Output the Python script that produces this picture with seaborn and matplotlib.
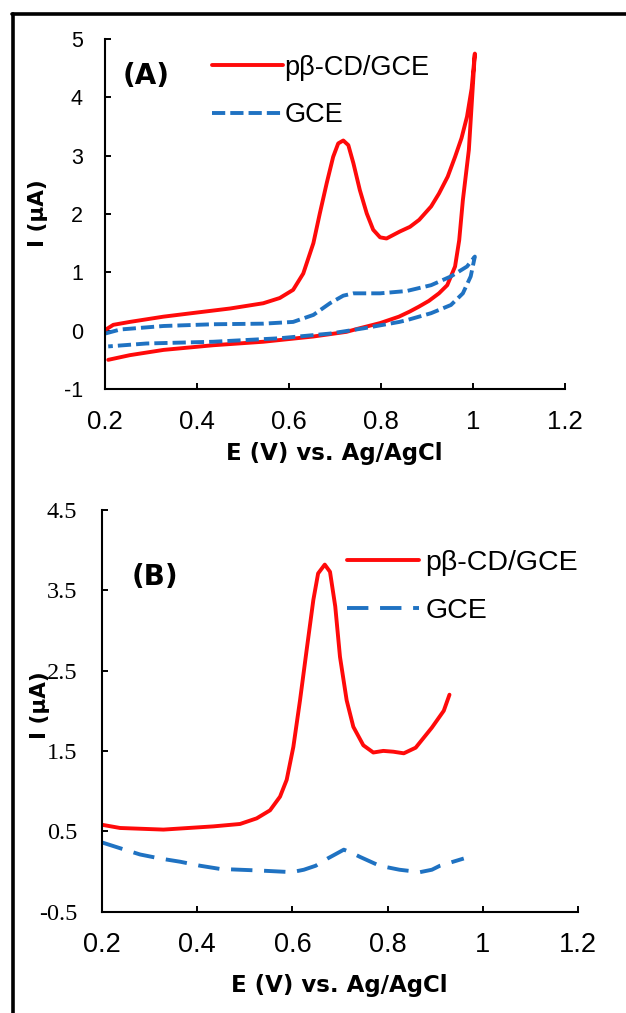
import numpy as np
import pandas as pd
import matplotlib
matplotlib.use("Agg")
import matplotlib.pyplot as plt
import seaborn as sns
from matplotlib.lines import Line2D

sns.set_theme(style="white")
plt.rcParams['font.family'] = ['Liberation Sans', 'DejaVu Sans']
plt.rcParams.update({"text.color": "black", "axes.labelcolor": "black",
                     "xtick.color": "black", "ytick.color": "black"})

# ---------------- Panel A: cyclic voltammograms ----------------
cv_pcd_E = [0.200, 0.218, 0.254, 0.327, 0.399, 0.472, 0.544, 0.580, 0.609, 0.631, 0.653, 0.667,
            0.682, 0.696, 0.707, 0.718, 0.729, 0.740, 0.754, 0.769, 0.783, 0.798, 0.812, 0.841,
            0.863, 0.883, 0.909, 0.926, 0.945, 0.961, 0.975, 0.987, 0.997, 1.004,
            1.000, 0.991, 0.978, 0.970, 0.961, 0.944, 0.926, 0.904, 0.882, 0.863, 0.839,
            0.798, 0.753, 0.725, 0.653, 0.544, 0.435, 0.327, 0.254, 0.207]
cv_pcd_I = [0.01, 0.10, 0.15, 0.24, 0.31, 0.38, 0.47, 0.56, 0.70, 0.98, 1.50, 2.01,
            2.53, 2.98, 3.21, 3.26, 3.18, 2.87, 2.41, 2.01, 1.73, 1.60, 1.58, 1.70,
            1.78, 1.90, 2.13, 2.35, 2.64, 2.98, 3.30, 3.67, 4.15, 4.75,
            4.24, 3.10, 2.24, 1.55, 1.10, 0.78, 0.64, 0.51, 0.41, 0.33, 0.24,
            0.13, 0.04, -0.02, -0.10, -0.19, -0.25, -0.33, -0.42, -0.50]

cv_gce_E = [0.200, 0.233, 0.327, 0.435, 0.544, 0.609, 0.653, 0.689, 0.718, 0.740, 0.798, 0.856,
            0.909, 0.952, 0.987, 1.004,
            0.995, 0.978, 0.952, 0.909, 0.856, 0.840, 0.762, 0.689, 0.580, 0.435, 0.290, 0.207]
cv_gce_I = [-0.05, 0.02, 0.08, 0.11, 0.12, 0.15, 0.27, 0.47, 0.60, 0.64, 0.64, 0.68,
            0.78, 0.93, 1.10, 1.27,
            0.93, 0.64, 0.44, 0.30, 0.18, 0.15, 0.04, -0.05, -0.13, -0.19, -0.22, -0.27]

# ---------------- Panel B: differential pulse voltammograms ----------------
dpv_pcd_E = [0.200, 0.238, 0.329, 0.434, 0.490, 0.525, 0.553, 0.574, 0.588, 0.602, 0.616, 0.630,
             0.644, 0.654, 0.668, 0.679, 0.690, 0.700, 0.714, 0.728, 0.749, 0.770, 0.791, 0.812,
             0.834, 0.859, 0.893, 0.918, 0.930]
dpv_pcd_I = [0.58, 0.54, 0.52, 0.56, 0.59, 0.66, 0.76, 0.93, 1.14, 1.55, 2.13, 2.76,
             3.38, 3.71, 3.82, 3.73, 3.30, 2.67, 2.13, 1.80, 1.57, 1.48, 1.50, 1.49,
             1.47, 1.54, 1.79, 2.00, 2.20]

dpv_gce_E = [0.200, 0.237, 0.280, 0.322, 0.364, 0.406, 0.448, 0.532, 0.599, 0.624, 0.649, 0.674,
             0.708, 0.725, 0.742, 0.783, 0.825, 0.868, 0.893, 0.910, 0.960]
dpv_gce_I = [0.36, 0.29, 0.21, 0.16, 0.12, 0.07, 0.03, 0.01, -0.01, 0.02, 0.07, 0.16,
             0.27, 0.23, 0.18, 0.07, 0.02, -0.01, 0.02, 0.07, 0.16]

x_ticks = [0.2, 0.4, 0.6, 0.8, 1.0, 1.2]
x_ticklabels = ["0.2", "0.4", "0.6", "0.8", "1", "1.2"]
yA_ticks = [-1, 0, 1, 2, 3, 4, 5]
yB_ticks = [-0.5, 0.5, 1.5, 2.5, 3.5, 4.5]
series_names = ["pβ-CD/GCE", "GCE"]

RED = "#ff0a0a"
BLUE = "#1f72c2"
BOLD_FAM = ["DejaVu Sans"]

fig = plt.figure(figsize=(6.26, 10.13), dpi=100)
axA = fig.add_axes([105 / 626, 1 - 389 / 1013, 460 / 626, 350 / 1013])
axB = fig.add_axes([102 / 626, 1 - 911.5 / 1013, 476 / 626, 401.5 / 1013])

# Panel A
sns.lineplot(x=cv_pcd_E, y=cv_pcd_I, sort=False, estimator=None, ax=axA,
             color=RED, lw=2.8, label=series_names[0])
sns.lineplot(x=cv_gce_E, y=cv_gce_I, sort=False, estimator=None, ax=axA,
             color=BLUE, lw=2.8, label=series_names[1])
axA.lines[1].set_dashes([3.4, 1.3])

# Panel B
sns.lineplot(x=dpv_pcd_E, y=dpv_pcd_I, sort=False, estimator=None, ax=axB,
             color=RED, lw=2.8, label=series_names[0])
sns.lineplot(x=dpv_gce_E, y=dpv_gce_I, sort=False, estimator=None, ax=axB,
             color=BLUE, lw=2.8, label=series_names[1])
axB.lines[1].set_dashes([5.5, 3.0])

for ax in (axA, axB):
    for ln in ax.lines:
        ln.set_solid_joinstyle("round")
        ln.set_solid_capstyle("round")
        ln.set_dash_joinstyle("round")
    ax.set_xlim(0.2, 1.2)
    ax.set_xticks(x_ticks)
    ax.set_xticklabels(x_ticklabels)
    for s in ("top", "right"):
        ax.spines[s].set_visible(False)
    for s in ("left", "bottom"):
        ax.spines[s].set_color("black")
        ax.spines[s].set_linewidth(1.5)
    ax.tick_params(axis="both", direction="in", length=4.3, width=1.4, color="black",
                   left=True, bottom=True)
    ax.set_facecolor("white")

axA.tick_params(axis="x", labelsize=18.5, pad=15)
axB.tick_params(axis="x", labelsize=19.5, pad=15)

axA.set_ylim(-1, 5)
axA.set_yticks(yA_ticks)
axA.set_yticklabels([str(v) for v in yA_ticks])
axA.tick_params(axis="y", labelsize=15.5, pad=16)

axB.set_ylim(-0.5, 4.5)
axB.set_yticks(yB_ticks)
axB.set_yticklabels([f"{v:g}" for v in yB_ticks])
axB.tick_params(axis="y", labelsize=17.5, pad=18)
for t in axB.get_yticklabels():
    t.set_family("Liberation Serif")

for ax, yc_x, yc_y, xl_x, xl_y in ((axA, -0.146, 0.503, 0.498, -0.183),
                                   (axB, -0.130, 0.515, 0.498, -0.185)):
    ax.set_xlabel("E (V) vs. Ag/AgCl", fontsize=16.5, fontweight="bold", family=BOLD_FAM)
    ax.set_ylabel("I (μA)", fontsize=15.5, fontweight="bold", family=BOLD_FAM)
    ax.xaxis.label.set_va("center")
    ax.yaxis.label.set_va("center")
    ax.xaxis.set_label_coords(xl_x, xl_y)
    ax.yaxis.set_label_coords(yc_x, yc_y)

# Panel tags
axA.text(18 / 460, (389 - 76) / 350, "(A)", transform=axA.transAxes, fontsize=20,
         fontweight="bold", family=BOLD_FAM, ha="left", va="center")
axB.text(30 / 476, (911.5 - 577) / 401.5, "(B)", transform=axB.transAxes, fontsize=20,
         fontweight="bold", family=BOLD_FAM, ha="left", va="center")

# Legends
axA.legend(loc="center left", bbox_to_anchor=(0.233, 0.850), frameon=False, fontsize=19.5,
           handlelength=2.6, handletextpad=0.07, labelspacing=0.80, borderaxespad=0,
           borderpad=0)
axB.legend(loc="center left", bbox_to_anchor=(0.515, 0.808), frameon=False, fontsize=20.5,
           handlelength=2.53, handletextpad=0.21, labelspacing=0.76, borderaxespad=0,
           borderpad=0)

# Outer frame (top and left edges)
fig.add_artist(Line2D([12 / 626, 1.0], [1 - 14 / 1013, 1 - 14 / 1013], transform=fig.transFigure,
                      color="black", lw=2.6))
fig.add_artist(Line2D([13 / 626, 13 / 626], [0.0, 1 - 14 / 1013], transform=fig.transFigure,
                      color="black", lw=2.6))

fig.savefig("out.png", dpi=100, facecolor="white")
